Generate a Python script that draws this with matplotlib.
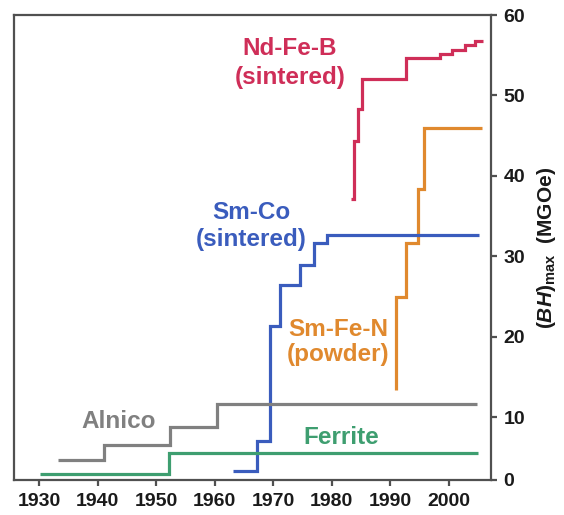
import matplotlib
matplotlib.use("Agg")
import matplotlib.pyplot as plt

plt.rcParams['font.family'] = ['Liberation Sans', 'DejaVu Sans']
plt.rcParams['mathtext.fontset'] = 'custom'
plt.rcParams['mathtext.rm'] = 'Liberation Sans:bold'
plt.rcParams['mathtext.it'] = 'Liberation Sans:italic:bold'
plt.rcParams['mathtext.bf'] = 'Liberation Sans:bold'

# ---- data (year of step, (BH)max in MGOe) ----
ndfeb_years = [1983.2, 1983.8, 1984.4, 1985.1, 1992.6, 1998.5, 2000.5, 2002.8, 2004.5, 2005.9]
ndfeb_vals = [37.1, 44.4, 48.3, 52.0, 54.7, 55.1, 55.6, 56.3, 56.8, 56.8]

smfen_years = [1990.9, 1991.0, 1992.6, 1994.7, 1995.8, 2005.7]
smfen_vals = [13.4, 24.9, 31.7, 38.4, 46.0, 46.0]

smco_years = [1963.2, 1967.2, 1969.4, 1971.2, 1974.5, 1976.9, 1979.1, 2005.1]
smco_vals = [3.3, 7.1, 21.4, 26.4, 28.9, 31.6, 32.7, 32.7]

alnico_years = [1933.3, 1941.0, 1952.4, 1960.4, 2004.8]
alnico_vals = [4.65, 6.5, 8.8, 11.7, 11.7]

ferrite_years = [1930.2, 1952.1, 2004.9]
ferrite_vals = [2.9, 5.6, 5.6]

x_ticks = [1930, 1940, 1950, 1960, 1970, 1980, 1990, 2000]
y_floor = 2.2
y_ticks = [y_floor, 10, 20, 30, 40, 50, 60]
y_tick_labels = ['0', '10', '20', '30', '40', '50', '60']

series = [
    (ndfeb_years, ndfeb_vals, '#CF2E58', 'Nd-Fe-B\n(sintered)', 290, 63, 1.3),
    (smfen_years, smfen_vals, '#E0892E', 'Sm-Fe-N\n(powder)', 338, 342, 1.15),
    (smco_years, smco_vals, '#3A5CBD', 'Sm-Co\n(sintered)', 251, 226, 1.25),
    (alnico_years, alnico_vals, '#808080', 'Alnico', 119, 421, 1.0),
    (ferrite_years, ferrite_vals, '#3E9E70', 'Ferrite', 341, 437, 1.0),
]

W, H = 564, 515
fig = plt.figure(figsize=(W / 100, H / 100), dpi=100)
ax = fig.add_axes([14 / W, 1 - 480 / H, (491 - 14) / W, (480 - 15) / H])

for xs, ys, col, label, lx, ly, ls in series:
    ax.step(xs, ys, where='post', color=col, lw=2.3, solid_capstyle='butt',
            solid_joinstyle='miter')
    fig.text(lx / W, 1 - ly / H, label, color=col, fontsize=17.5,
             fontweight='bold', ha='center', va='center', linespacing=ls)

ax.set_xlim(1925.7, 2007.2)
ax.set_ylim(y_floor, 60)
ax.set_xticks(x_ticks)
ax.set_xticklabels([str(t) for t in x_ticks])
ax.yaxis.tick_right()
ax.set_yticks(y_ticks)
ax.set_yticklabels(y_tick_labels)

for sp in ax.spines.values():
    sp.set_color('#505050')
    sp.set_linewidth(1.6)

ax.tick_params(axis='both', direction='out', length=4, width=1.6, color='#505050',
               labelsize=14, pad=5)
for lab in ax.get_xticklabels() + ax.get_yticklabels():
    lab.set_fontweight('bold')
    lab.set_family(['Liberation Sans Narrow', 'Liberation Sans'])
    lab.set_color('#1a1a1a')

ax.yaxis.set_label_position('right')
ax.set_ylabel(r'$(\mathit{BH})_{\mathrm{max}}$  (MGOe)', fontsize=15, fontweight='bold',
              color='#1a1a1a', rotation=90, labelpad=7)

fig.savefig('out.png', dpi=100)
